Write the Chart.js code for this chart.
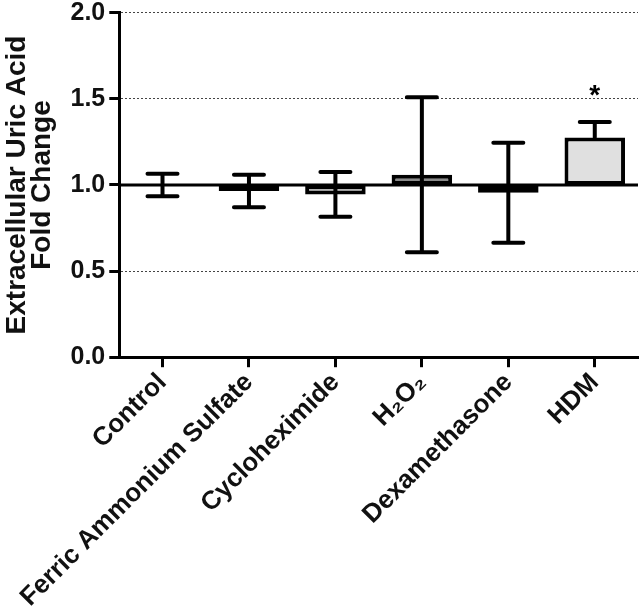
<!DOCTYPE html>
<html>
<head>
<meta charset="utf-8">
<script src="https://cdn.jsdelivr.net/npm/chart.js@4"></script>
<style>
  html, body { margin: 0; padding: 0; background: #fff; }
  #wrap { width: 640px; height: 613px; }
</style>
</head>
<body>
<div id="wrap"><canvas id="chart"></canvas></div>
<script>
const categories = ['Control', 'Ferric Ammonium Sulfate', 'Cycloheximide', 'H\u2082O\u2082', 'Dexamethasone', 'HDM'];
const means = [1.00, 0.965, 0.945, 1.06, 0.955, 1.275];
const errUp = [0.065, 0.095, 0.13, 0.45, 0.29, 0.09];
const errDown = [0.065, 0.095, 0.13, 0.45, 0.29, 0];
const marks = ['', '', '', '', '', '*'];
const fills = ['#ffffff', '#111111', '#b3b3b3', '#8a8a8a', '#444444', '#e0e0e0'];
const yTicks = [0, 0.5, 1.0, 1.5, 2.0];
const baseline = 1.0;

const FONT = "'Liberation Sans', Arial, sans-serif";

// error bars, the 1.0 reference line and the star, drawn through the chart scales
const extras = {
  id: 'extras',
  afterDatasetsDraw(chart) {
    const ctx = chart.ctx;
    const x = chart.scales.x, y = chart.scales.y;
    const area = chart.chartArea;

    ctx.save();
    ctx.strokeStyle = '#000';
    ctx.lineWidth = 3;
    ctx.beginPath();
    ctx.moveTo(area.left, y.getPixelForValue(baseline));
    ctx.lineTo(area.right, y.getPixelForValue(baseline));
    ctx.stroke();

    ctx.lineWidth = 4;
    ctx.lineCap = 'round';
    means.forEach((m, i) => {
      const cx = x.getPixelForValue(i);
      const top = y.getPixelForValue(m + errUp[i]);
      const bot = y.getPixelForValue(m - errDown[i]);
      const mid = y.getPixelForValue(m);
      ctx.beginPath();
      ctx.moveTo(cx, top); ctx.lineTo(cx, mid);
      ctx.moveTo(cx - 15, top); ctx.lineTo(cx + 15, top);
      if (errDown[i] > 0) {
        ctx.moveTo(cx, mid); ctx.lineTo(cx, bot);
        ctx.moveTo(cx - 15, bot); ctx.lineTo(cx + 15, bot);
      }
      ctx.stroke();
      if (marks[i]) {
        ctx.fillStyle = '#000';
        ctx.font = 'bold 28px ' + FONT;
        ctx.textAlign = 'center';
        ctx.textBaseline = 'alphabetic';
        ctx.fillText(marks[i], cx, top - 18);
      }
    });
    ctx.restore();
  }
};

new Chart(document.getElementById('chart'), {
  type: 'bar',
  data: {
    labels: categories,
    datasets: [{
      data: means.map(m => [baseline, m]),
      backgroundColor: fills,
      borderColor: '#000',
      borderWidth: 4,
      borderSkipped: false,
      barPercentage: 0.7,
      categoryPercentage: 1.0
    }]
  },
  options: {
    responsive: true,
    maintainAspectRatio: false,
    animation: false,
    layout: { padding: { left: 4, right: 2, top: 0, bottom: 0 } },
    plugins: {
      legend: { display: false },
      tooltip: { enabled: false }
    },
    scales: {
      x: {
        grid: {
          offset: false,
          drawOnChartArea: false,
          tickLength: 10,
          tickWidth: 3,
          tickColor: '#000'
        },
        border: { color: '#000', width: 3 },
        ticks: {
          color: '#111',
          font: { family: FONT, size: 26, weight: 'bold' },
          maxRotation: 45,
          minRotation: 45,
          padding: 0
        }
      },
      y: {
        min: 0,
        max: 2,
        afterBuildTicks(scale) { scale.ticks = yTicks.map(v => ({ value: v })); },
        grid: {
          color: '#444',
          lineWidth: 1,
          tickLength: 10,
          tickWidth: 3,
          tickColor: '#000'
        },
        border: { color: '#000', width: 3, dash: [2, 2] },
        ticks: {
          color: '#111',
          font: { family: FONT, size: 25, weight: 'bold', lineHeight: 0.7 },
          padding: 4,
          callback: v => Number(v).toFixed(1)
        },
        title: {
          display: true,
          text: ['Extracellular Uric Acid', 'Fold Change'],
          color: '#111',
          font: { family: FONT, size: 28, weight: 'bold', lineHeight: 0.92 },
          padding: { top: 0, bottom: 11 }
        }
      }
    }
  },
  plugins: [extras]
});
</script>
</body>
</html>
